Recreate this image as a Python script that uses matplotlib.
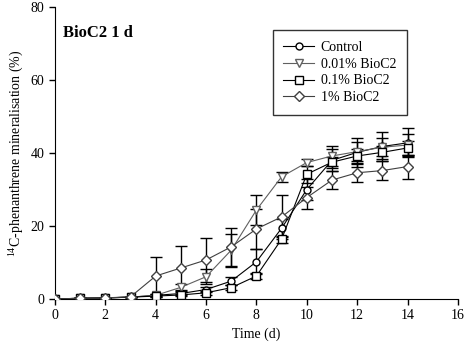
import numpy as np
import matplotlib
matplotlib.use('Agg')
import matplotlib.pyplot as plt

plt.rcParams['font.family'] = ['Liberation Serif', 'DejaVu Serif']
plt.rcParams['mathtext.fontset'] = 'custom'
plt.rcParams['mathtext.rm'] = 'Liberation Serif'

# Data
days = [0, 1, 2, 3, 4, 5, 6, 7, 8, 9, 10, 11, 12, 13, 14]

control = [0, 0.2, 0.3, 0.5, 1.0, 1.5, 2.6, 4.9, 10.2, 19.4, 30.0, 38.0, 40.2, 41.8, 42.8]
control_err = [0, 0, 0, 0, 0.3, 0.5, 0.8, 1.2, 3.4, 2.5, 3.0, 3.0, 4.0, 4.0, 4.0]

bio001 = [0, 0.2, 0.3, 0.5, 1.0, 3.2, 6.1, 13.4, 24.4, 33.5, 37.4, 39.2, 40.4, 41.6, 42.2]
bio001_err = [0, 0, 0, 0, 0.5, 1.0, 2.0, 4.5, 4.0, 1.4, 1.0, 2.7, 2.5, 2.5, 3.0]

bio01 = [0, 0.2, 0.3, 0.5, 0.8, 1.1, 1.7, 3.1, 6.3, 16.4, 34.2, 37.5, 39.2, 40.2, 41.4]
bio01_err = [0, 0, 0, 0, 0.3, 0.3, 0.5, 0.6, 0.8, 1.0, 2.3, 1.5, 1.8, 1.8, 1.8]

bio1 = [0, 0.2, 0.3, 0.6, 6.3, 8.5, 10.7, 14.3, 19.2, 22.5, 27.8, 32.6, 34.6, 35.2, 36.3]
bio1_err = [0, 0, 0, 0, 5.1, 6.1, 6.1, 5.2, 5.6, 6.0, 3.0, 2.5, 2.5, 2.6, 3.3]

labels = ['Control', '0.01% BioC2', '0.1% BioC2', '1% BioC2']

fig = plt.figure(figsize=(4.73, 3.57), dpi=100)
ax = fig.add_axes([0.1163, 0.1625, 0.8517, 0.8175])

series = [
    (control, control_err, 'o', 5, 'black', labels[0]),
    (bio001, bio001_err, 'v', 6, '#606060', labels[1]),
    (bio01, bio01_err, 's', 5.5, 'black', labels[2]),
    (bio1, bio1_err, 'D', 5.5, '#404040', labels[3]),
]

handles = []
for vals, err, mk, ms, col, lab in series:
    ax.errorbar(days, vals, yerr=err, fmt='none', ecolor='black',
                elinewidth=1.0, capsize=4, capthick=1.0, zorder=2)
    h, = ax.plot(days, vals, color=col, lw=0.8, marker=mk, markersize=ms,
                 markerfacecolor='white', markeredgecolor=col,
                 markeredgewidth=1.0, label=lab, zorder=3)
    handles.append(h)

ax.set_xlim(0, 16)
ax.set_ylim(0, 80)
ax.set_xticks(np.arange(0, 17, 2))
ax.set_yticks(np.arange(0, 81, 20))
ax.tick_params(direction='out', length=4, width=1, labelsize=10)
ax.spines['top'].set_visible(False)
ax.spines['right'].set_visible(False)
ax.set_xlabel('Time (d)', fontsize=10)
ax.set_ylabel(r'$^{14}$C-phenanthrene mineralisation (%)', fontsize=10)

ax.text(0.02, 0.91, 'BioC2 1 d', transform=ax.transAxes, fontsize=12,
        fontweight='bold', ha='left', va='center')

leg = ax.legend(handles=handles, loc='upper left', bbox_to_anchor=(0.541, 0.921),
                frameon=True, fancybox=False, edgecolor='black', fontsize=10,
                handlelength=2.2, labelspacing=0.28, borderpad=0.75,
                handletextpad=0.5, borderaxespad=0)
leg.get_frame().set_linewidth(1.0)

fig.savefig('out.png', dpi=100)
